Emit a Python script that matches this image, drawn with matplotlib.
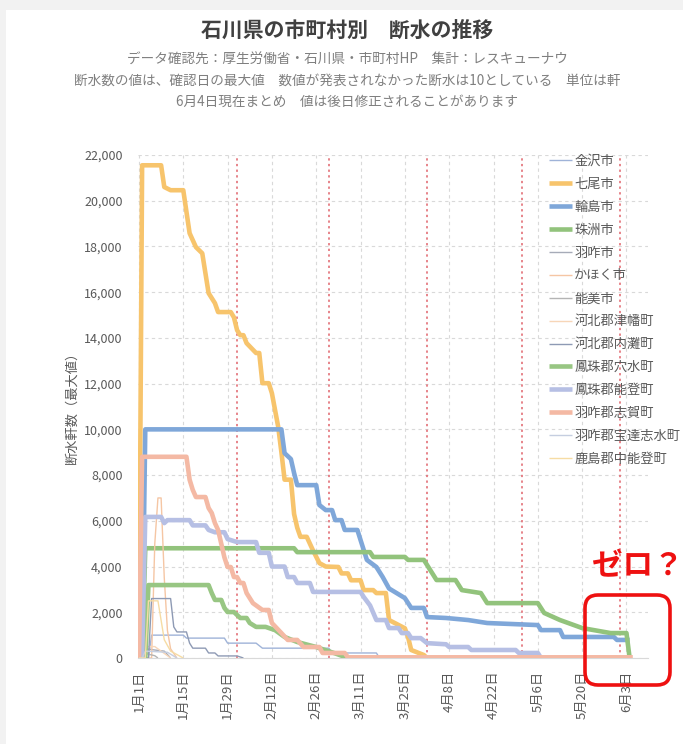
import matplotlib
matplotlib.use("Agg")
import matplotlib.pyplot as plt
from matplotlib.patches import Rectangle, FancyBboxPatch
from matplotlib.transforms import IdentityTransform

plt.rcParams['font.family'] = ['Noto Sans CJK JP', 'DejaVu Sans']

# days counted from 1月1日 (day 0)
tick_days = [0, 14, 28, 42, 56, 70, 84, 98, 112, 126, 140, 154]
tick_labels = ["1月1日", "1月15日", "1月29日", "2月12日", "2月26日", "3月11日",
               "3月25日", "4月8日", "4月22日", "5月6日", "5月20日", "6月3日"]
month_start_days = [31, 60, 91, 121, 152]

yticks = list(range(0, 22001, 2000))

names = ["金沢市", "七尾市", "輪島市", "珠洲市", "羽咋市", "かほく市", "能美市",
         "河北郡津幡町", "河北郡内灘町", "鳳珠郡穴水町", "鳳珠郡能登町",
         "羽咋郡志賀町", "羽咋郡宝達志水町", "鹿島郡中能登町"]

kanazawa_d = [0, 3, 4, 14, 15, 27, 28, 37, 39, 60, 61, 75, 76]
kanazawa_v = [0, 0, 1000, 1000, 870, 870, 650, 650, 430, 430, 220, 220, 0]

nanao_d = [0, 1, 7, 8, 10, 14, 16, 18, 20, 21, 22, 24, 25, 29, 30, 31, 32, 33, 34,
           37, 38, 39, 41, 42, 44, 45, 46, 48, 49, 50, 51, 53, 55, 57, 59, 63, 64,
           66, 67, 70, 71, 74, 75, 78, 79, 84, 85, 86, 90, 91]
nanao_v = [0, 21550, 21550, 20600, 20460, 20460, 18580, 17970, 17700, 16830, 15960,
           15520, 15130, 15130, 14900, 14340, 14120, 14120, 13770, 13340, 13340,
           12020, 12020, 11580, 10100, 9000, 7800, 7800, 6300, 5700, 5300, 5300,
           4700, 4150, 4000, 3980, 3700, 3700, 3400, 3400, 2970, 2970, 2840, 2840,
           1660, 1300, 920, 350, 130, 0]

wajima_d = [0, 1, 2, 45, 46, 48, 49, 50, 56, 57, 59, 61, 62, 64, 65, 69, 70, 72,
            75, 77, 79, 84, 86, 90, 91, 97, 104, 110, 126, 127, 133, 134, 150, 151, 155]
wajima_v = [0, 0, 10000, 10000, 8960, 8700, 8090, 7560, 7560, 6690, 6470, 6470,
            6030, 6030, 5600, 5600, 5160, 4290, 3980, 3540, 3040, 2620, 2190, 2190,
            1790, 1750, 1660, 1530, 1440, 1220, 1220, 920, 920, 790, 790]

suzu_d = [0, 1, 2, 49, 50, 73, 74, 84, 85, 90, 94, 100, 102, 108, 110, 126, 128,
          133, 140, 149, 154, 155]
suzu_v = [0, 0, 4800, 4800, 4630, 4630, 4420, 4420, 4290, 4290, 3410, 3410, 2970,
          2840, 2400, 2400, 1970, 1660, 1310, 1090, 1090, 0]

hakui_d = [0, 1, 2, 8, 10]
hakui_v = [0, 0, 400, 300, 0]

kahoku_d = [0, 4, 5, 6, 7, 8, 9, 10, 12]
kahoku_v = [0, 0, 5000, 7000, 7000, 3500, 1200, 400, 0]

nomi_d = [0, 1, 2, 5, 6]
nomi_v = [0, 0, 200, 100, 0]

tsubata_d = [0, 1, 2, 5, 8, 10]
tsubata_v = [0, 0, 500, 500, 200, 0]

uchinada_d = [0, 3, 4, 10, 11, 12, 15, 16, 17, 21, 22, 24, 25, 31, 33]
uchinada_v = [0, 0, 2600, 2600, 1360, 1140, 1140, 650, 430, 430, 220, 220, 90, 90, 0]

anamizu_d = [0, 2, 3, 22, 23, 24, 26, 27, 28, 30, 32, 34, 35, 37, 40, 43, 46, 50,
             56, 62, 66]
anamizu_v = [0, 0, 3190, 3190, 2840, 2540, 2540, 2190, 2010, 2010, 1750, 1750,
             1530, 1360, 1360, 1220, 920, 700, 480, 200, 0]

noto_d = [0, 1, 2, 7, 8, 9, 16, 17, 21, 22, 24, 27, 28, 31, 37, 38, 41, 42, 46, 47,
          49, 50, 54, 55, 70, 71, 73, 75, 78, 79, 82, 83, 85, 86, 89, 91, 97, 98,
          104, 105, 119, 120, 126, 127]
noto_v = [0, 0, 6170, 6170, 5900, 6030, 6030, 5800, 5800, 5600, 5500, 5500, 5200,
          5070, 5070, 4600, 4600, 4000, 4000, 3540, 3540, 3280, 3280, 2890, 2890,
          2670, 2300, 1660, 1660, 1310, 1310, 1090, 1090, 870, 870, 650, 600, 480,
          480, 350, 350, 220, 220, 0]

shika_d = [0, 1, 15, 16, 17, 18, 21, 22, 23, 24, 25, 26, 27, 28, 29, 30, 31, 32,
           33, 34, 36, 37, 39, 41, 42, 45, 47, 50, 52, 57, 58, 65, 66, 156]
shika_v = [0, 8800, 8800, 7800, 7350, 7040, 7040, 6560, 6340, 5900, 5600, 5000,
           4400, 3980, 3980, 3540, 3540, 3280, 3280, 2840, 2400, 2300, 2100, 2100,
           1530, 1090, 790, 790, 480, 480, 220, 220, 30, 30]

hodatsu_d = [0, 1, 2, 9, 12]
hodatsu_v = [0, 0, 300, 250, 0]

nakanoto_d = [0, 2, 3, 6, 8, 10, 14]
nakanoto_v = [0, 0, 2500, 2500, 800, 300, 0]

series_d = [kanazawa_d, nanao_d, wajima_d, suzu_d, hakui_d, kahoku_d, nomi_d,
            tsubata_d, uchinada_d, anamizu_d, noto_d, shika_d, hodatsu_d, nakanoto_d]
series_v = [kanazawa_v, nanao_v, wajima_v, suzu_v, hakui_v, kahoku_v, nomi_v,
            tsubata_v, uchinada_v, anamizu_v, noto_v, shika_v, hodatsu_v, nakanoto_v]

colors = ["#9fb3d8", "#f7c46c", "#7fa7d9", "#92c37c", "#a6abb8", "#f5c6a4", "#b4b4b4",
          "#f7d6b8", "#8e9ab4", "#98c683", "#b6bfe4", "#f4b9a4", "#c5cee0", "#f6dca4"]
widths = [1.0, 3.3, 3.3, 3.3, 1.0, 1.0, 1.0, 1.0, 1.0, 3.3, 3.3, 3.3, 1.0, 1.0]

W, H = 683, 744
fig = plt.figure(figsize=(W / 100, H / 100), dpi=100, facecolor="#f2f2f2")
fig.add_artist(Rectangle((6 / W, 0), 1, 1 - 10 / H, transform=fig.transFigure,
                         facecolor="white", edgecolor="none", zorder=0))

ax = fig.add_axes([138 / W, 1 - 658 / H, 510 / W, 503 / H])
ax.set_facecolor("none")

for d, v, c, lw, n in zip(series_d, series_v, colors, widths, names):
    ax.plot(d, v, color=c, lw=lw, label=n, solid_joinstyle="round",
            solid_capstyle="butt", zorder=3)

for d in month_start_days:
    ax.axvline(d, color="#e0636b", lw=1.1, ls=(0, (1.5, 2.2)), zorder=2)

ax.set_xlim(-0.3, 160.8)
ax.set_ylim(0, 22000)
ax.set_yticks(yticks)
ax.set_yticklabels([f"{y:,}" for y in yticks])
ax.set_xticks(tick_days)
ax.set_xticklabels(tick_labels, rotation=90)
ax.grid(True, color="#d9d9d9", lw=0.8, ls=(0, (3, 3)), zorder=1)
ax.tick_params(axis="both", length=0, colors="#595959")
ax.tick_params(axis="y", pad=11, labelsize=9)
ax.tick_params(axis="x", pad=9, labelsize=9.5)
for s in ["top", "right", "left"]:
    ax.spines[s].set_visible(False)
ax.spines["bottom"].set_color("#d9d9d9")

fig.text(72 / W, 1 - 404 / H, "断水軒数（最大値）", rotation=90, ha="center",
         va="center", fontsize=9.5, color="#595959")

fig.text(347 / W, 1 - 30 / H, "石川県の市町村別　断水の推移", ha="center", va="center",
         fontsize=15, fontweight="bold", color="#404040")
subs = ["データ確認先：厚生労働省・石川県・市町村HP　集計：レスキューナウ",
        "断水数の値は、確認日の最大値　数値が発表されなかった断水は10としている　単位は軒",
        "6月4日現在まとめ　値は後日修正されることがあります"]
for i, s in enumerate(subs):
    fig.text(347 / W, 1 - (60 + 21 * i) / H, s, ha="center", va="center",
             fontsize=9.8, color="#7f7f7f")

leg = fig.legend(loc="upper left", bbox_to_anchor=(549 / W, 1 - 155 / H),
                 bbox_transform=fig.transFigure, frameon=False, fontsize=9.5,
                 labelspacing=0.75, handlelength=1.75, handletextpad=0.15,
                 borderpad=0, borderaxespad=0)
for t in leg.get_texts():
    t.set_color("#595959")

fig.text(592 / W, 1 - 566 / H, "ゼロ？", ha="left", va="center", fontsize=22,
         fontweight="bold", color="#ee1111")
fig.add_artist(FancyBboxPatch((585, H - 685), 85, 90,
                              boxstyle="round,pad=0,rounding_size=13",
                              transform=IdentityTransform(), facecolor="none",
                              edgecolor="#ee1111", lw=2.6, zorder=10))

fig.savefig("out.png", dpi=100, facecolor=fig.get_facecolor())
